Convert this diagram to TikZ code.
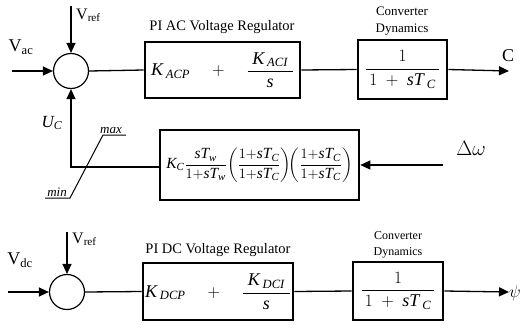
\documentclass[tikz,border=0pt]{standalone}
\usepackage{amsmath}
\usepackage{fontspec}
\setmainfont{Liberation Serif}
\usetikzlibrary{arrows.meta}
\begin{document}
\begin{tikzpicture}[x=1pt,y=-1pt,
  blk/.style={draw,line width=2.6pt,inner sep=0pt,minimum width=#1},
  sumc/.style={draw,circle,line width=1.2pt,minimum size=35pt,inner sep=0pt},
  wire/.style={line width=1.3pt},
  arr/.style={wire,-{Triangle[length=10pt,width=9pt]}},
  lbl/.style={inner sep=0pt,font=\fontsize{18}{20}\selectfont},
  ttl/.style={inner sep=0pt,font=\fontsize{14.5}{16}\selectfont},
  small/.style={inner sep=0pt,align=center,font=\fontsize{13}{17}\selectfont}]
\useasboundingbox (0,0) rectangle (522,327);
% ---- top row
\node[sumc] (s1) at (71,71) {};
\node[blk=155pt,minimum height=56pt] (b1) at (222.5,70)
  {\fontsize{18}{20}\selectfont$\textit{K}\,{}_{\textit{ACP}}\quad+\quad\dfrac{\;\textit{K}\,{}_{\textit{ACI}}\;}{\textit{s}}$};
\node[blk=89pt,minimum height=59pt] (b2) at (402.5,69.5)
  {\fontsize{18}{20}\selectfont$\dfrac{1}{\,1\;+\;\textit{sT}\,{}_{\textit{C}}\,}$};
\node[ttl] (t1) at (222,27) {PI AC Voltage Regulator};
\node[small] (c1) at (402,21) {Converter\\Dynamics};
\coordinate (vr1) at (71,6);
\coordinate (vac) at (12,71);
\coordinate (o1) at (509,71);
\draw[arr] (vr1) -- (s1.north);
\draw[arr] (vac) -- (s1.west);
\draw[wire] (s1.east) -- (b1.west);
\draw[wire] (b1.east) -- (b2.west);
\draw[arr] (b2.east) -- (o1);
\node[lbl,anchor=south west,font=\fontsize{16}{18}\selectfont] (lvr1) at (76,22) {V\textsubscript{ref}};
\node[lbl] (lvac) at (21,47) {V\textsubscript{ac}};
\node[lbl] (lc) at (508,56) {C};
% ---- middle row
\node[blk=199pt,minimum height=70pt] (b3) at (259.5,165)
  {\fontsize{15.5}{17}\selectfont$\textit{K}_{\textit{C}}\dfrac{\textit{sT}_{\textit{w}}}{1{+}\textit{sT}_{\textit{w}}}\!\left(\dfrac{1{+}\textit{sT}_{\textit{C}}}{1{+}\textit{sT}_{\textit{C}}}\right)\!\!\left(\dfrac{1{+}\textit{sT}_{\textit{C}}}{1{+}\textit{sT}_{\textit{C}}}\right)$};
\coordinate (dw) at (443,165);
\coordinate (fc) at (71,167);
\draw[arr] (dw) -- (b3.east);
\draw[arr] (b3.west |- fc) -- (fc) -- (s1.south);
\node[lbl,font=\fontsize{20}{22}\selectfont] (ldw) at (471,148) {$\Delta\omega$};
\node[lbl,font=\fontsize{17}{19}\selectfont\itshape] (luc) at (52,123) {U\textsubscript{C}};
\coordinate (lm1) at (45,198);
\coordinate (lm2) at (70,198);
\coordinate (lm3) at (103,135);
\coordinate (lm4) at (126,135);
\draw[line width=1pt] (lm1) -- (lm2) -- (lm3) -- (lm4);
\node[inner sep=0pt,font=\fontsize{13}{15}\selectfont\itshape,anchor=south] (lmax) at (111,134) {max};
\node[inner sep=0pt,font=\fontsize{13}{15}\selectfont\itshape,anchor=south] (lmin) at (57,197) {min};
% ---- bottom row
\node[sumc] (s2) at (67,292) {};
\node[blk=150pt,minimum height=57pt] (b4) at (218,291.5)
  {\fontsize{18}{20}\selectfont$\textit{K}\,{}_{\textit{DCP}}\quad+\quad\dfrac{\;\textit{K}\,{}_{\textit{DCI}}\;}{\textit{s}}$};
\node[blk=90pt,minimum height=58pt] (b5) at (398,291)
  {\fontsize{18}{20}\selectfont$\dfrac{1}{\,1\;+\;\textit{sT}\,{}_{\textit{C}}\,}$};
\node[ttl] (t2) at (218,250) {PI DC Voltage Regulator};
\node[small,font=\fontsize{12}{16}\selectfont] (c2) at (398,245) {Converter\\Dynamics};
\coordinate (vr2) at (67,232);
\coordinate (vdc) at (8,292);
\coordinate (o2) at (509,292);
\draw[arr] (vr2) -- (s2.north);
\draw[arr] (vdc) -- (s2.west);
\draw[wire] (s2.east) -- (b4.west);
\draw[wire] (b4.east) -- (b5.west);
\draw[arr] (b5.east) -- (o2);
\node[lbl,anchor=south west,font=\fontsize{16}{18}\selectfont] (lvr2) at (72,246) {V\textsubscript{ref}};
\node[lbl] (lvdc) at (20,260) {V\textsubscript{dc}};
\node[lbl,font=\fontsize{18}{20}\selectfont,anchor=west] (lpsi) at (509,293) {$\psi$};
\end{tikzpicture}
\end{document}
